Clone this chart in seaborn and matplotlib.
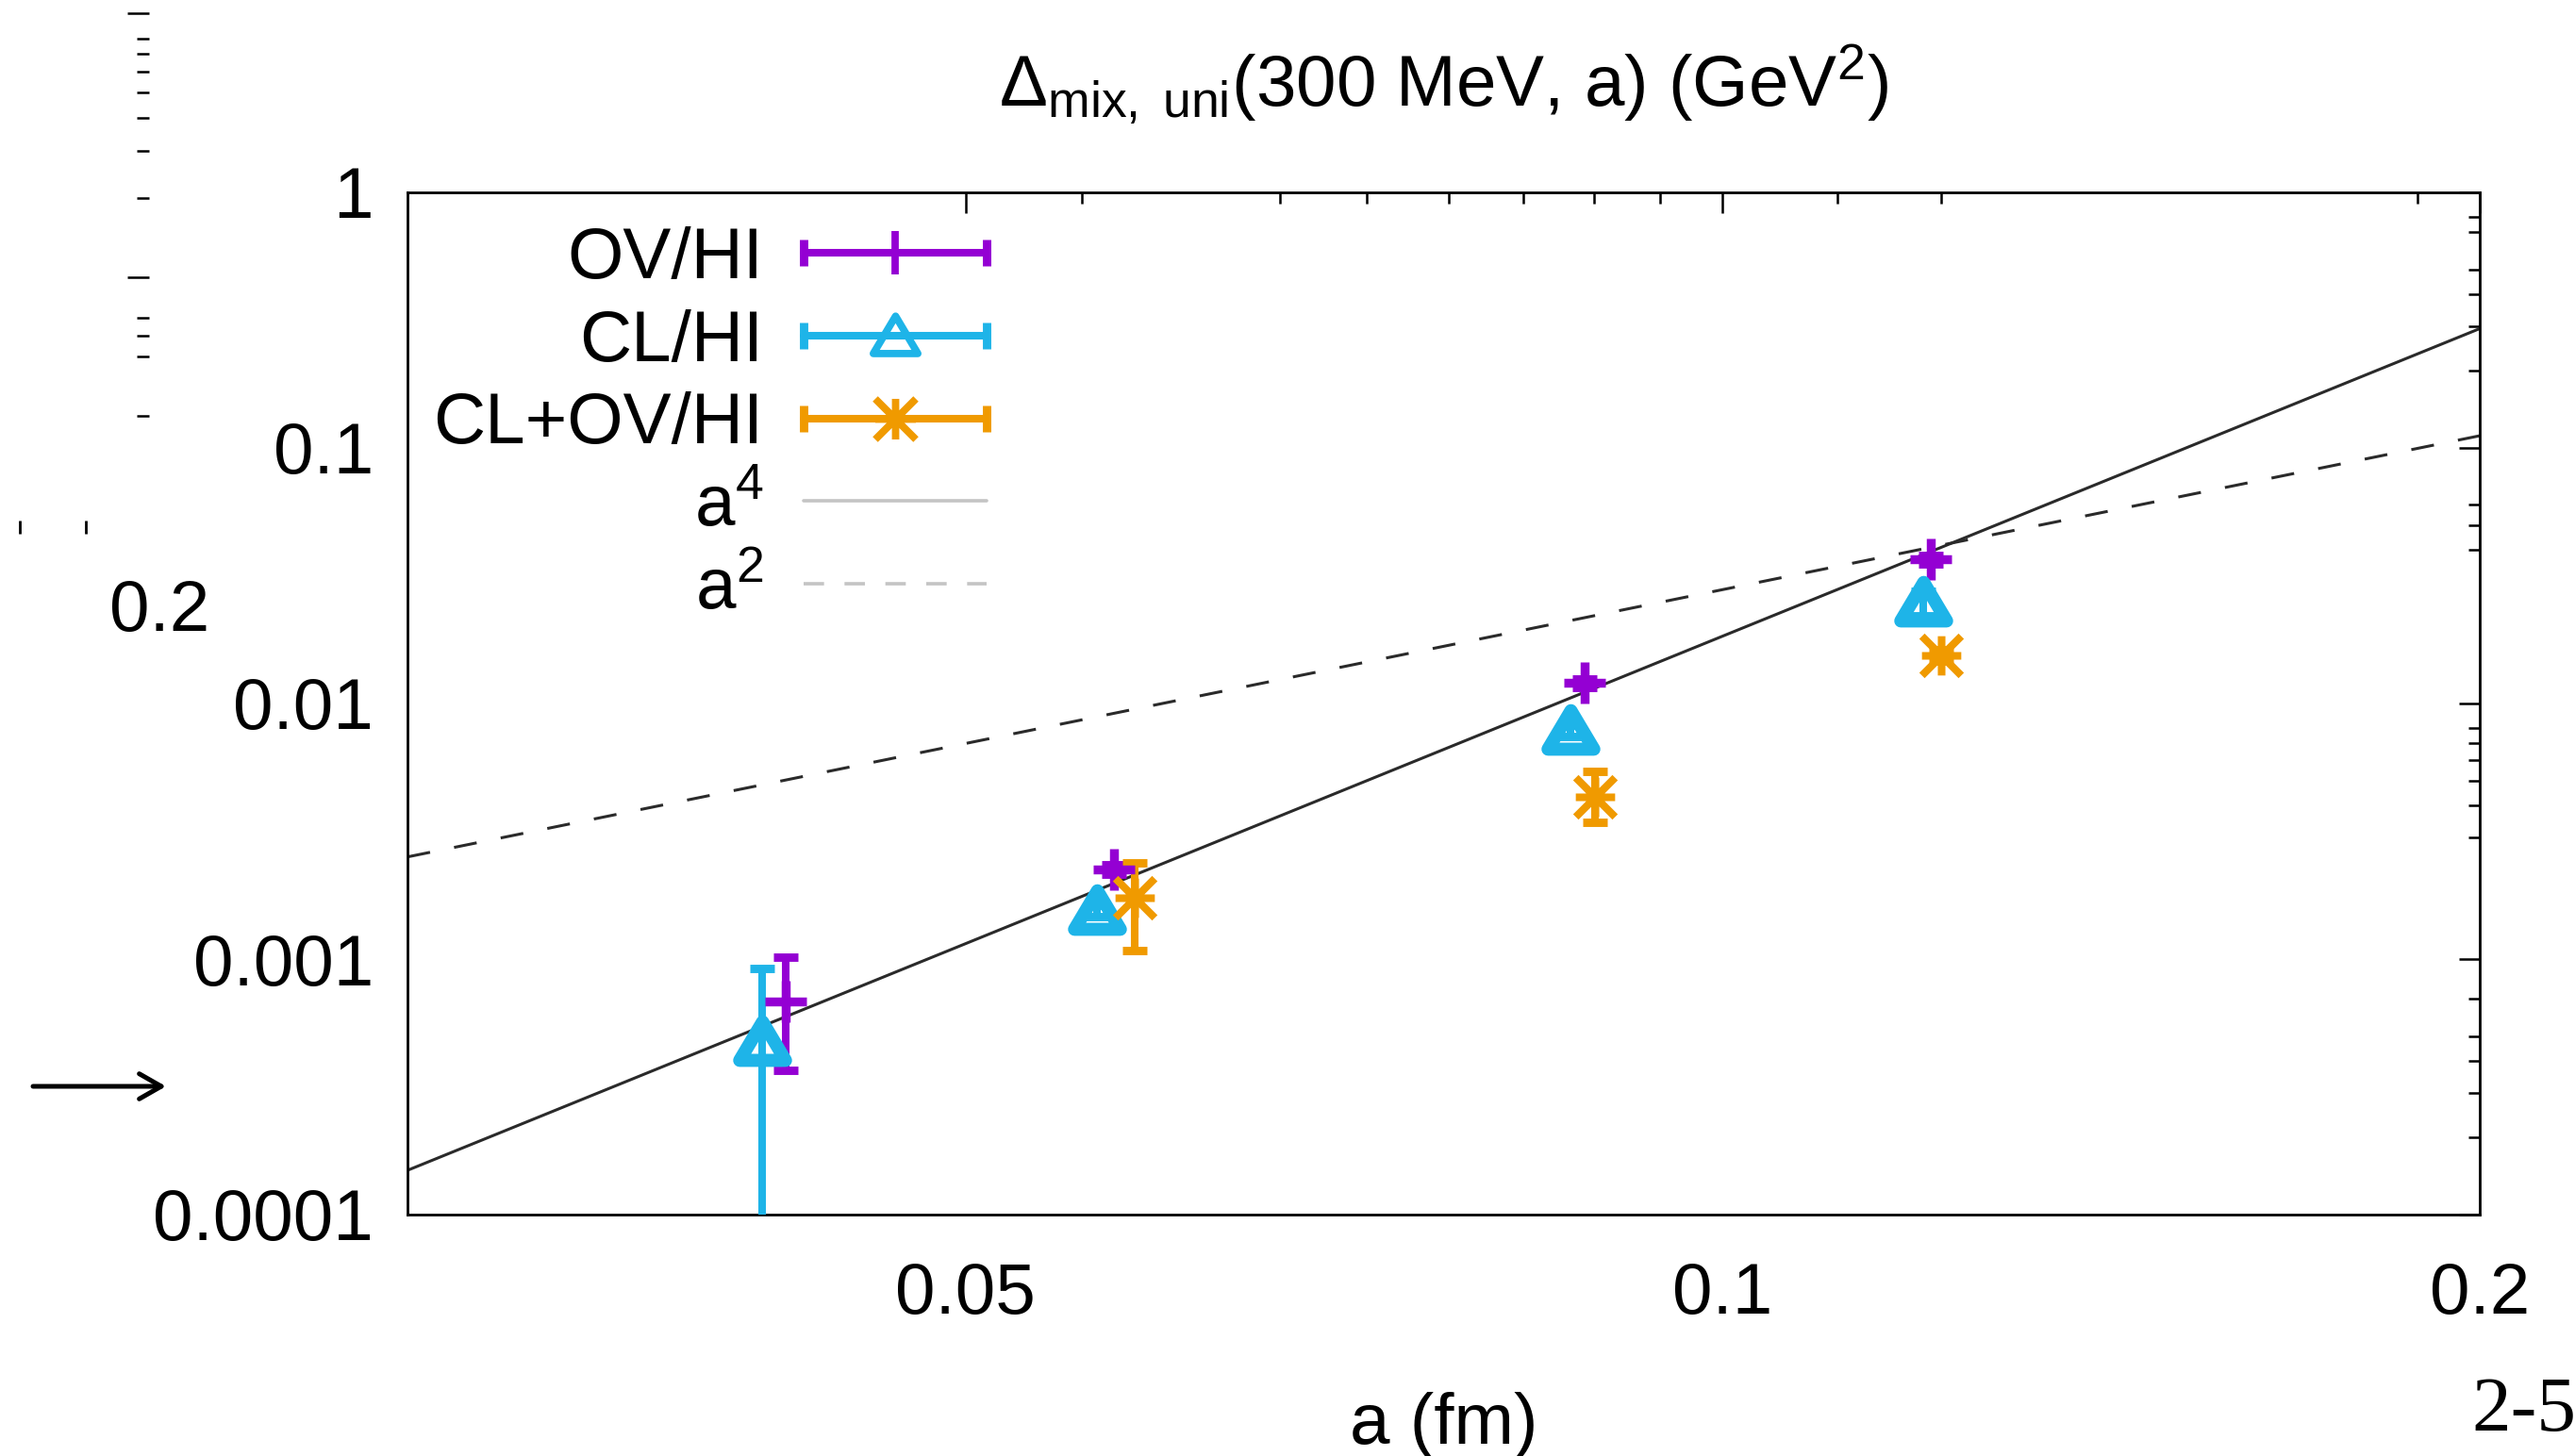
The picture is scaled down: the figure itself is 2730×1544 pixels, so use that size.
import numpy as np
import pandas as pd
import matplotlib
matplotlib.use("Agg")
import matplotlib.pyplot as plt
import seaborn as sns
from matplotlib.lines import Line2D
from matplotlib.path import Path
from matplotlib.patches import FancyArrowPatch
from matplotlib.legend_handler import HandlerLine2D, HandlerTuple
from matplotlib.ticker import FixedLocator, NullFormatter, FixedFormatter

# ---------------- data ----------------
ov_a = [0.0424, 0.0573, 0.0881, 0.1210]
ov_d = [6.84e-4, 2.24e-3, 1.205e-2, 3.66e-2]
ov_lo = [3.67e-4, 2.15e-3, 1.16e-2, 3.52e-2]
ov_hi = [1.02e-3, 2.33e-3, 1.25e-2, 3.80e-2]

cl_a = [0.0415, 0.0564, 0.0870, 0.1202]
cl_d = [4.72e-4, 1.54e-3, 7.83e-3, 2.48e-2]
cl_lo = [3.0e-5, 1.46e-3, 7.45e-3, 2.20e-2]
cl_hi = [9.19e-4, 1.62e-3, 8.25e-3, 2.75e-2]

co_a = [0.0584, 0.0890, 0.1222]
co_d = [1.74e-3, 4.31e-3, 1.54e-2]
co_lo = [1.08e-3, 3.43e-3, 1.47e-2]
co_hi = [2.38e-3, 5.41e-3, 1.62e-2]

a4_a = [0.03, 0.2]
a4_d = [1.49e-4, 0.293]
a2_a = [0.03, 0.2]
a2_d = [2.51e-3, 0.1116]

xtick_vals = [0.05, 0.1, 0.2]
xtick_labels = ["0.05", "0.1", "0.2"]
x_minor = [0.0556, 0.0667, 0.0722, 0.0778, 0.0833, 0.0889, 0.0944, 0.1111, 0.1222, 0.1889]
ytick_vals = [1e-4, 1e-3, 1e-2, 1e-1, 1]
ytick_labels = ["0.0001", "0.001", "0.01", "0.1", "1"]
y_minor = [2e-4, 3e-4, 4e-4, 5e-4, 7e-4,
           3e-3, 4e-3, 5e-3, 6e-3, 7e-3, 8e-3,
           4e-2, 5e-2, 6e-2,
           0.2, 0.3, 0.4, 0.5, 0.7, 0.8]

labels = ["OV/HI", "CL/HI", "CL+OV/HI", "a$^4$", "a$^2$"]
title = r"$\Delta_{\mathrm{mix,\ uni}}$(300 MeV, a) (GeV$^2$)"
xlabel = "a (fm)"

C_OV = "#9400d3"
C_CL = "#1eb4e8"
C_CO = "#f09a00"

# ---------------- style ----------------
sns.set_theme(style="white")
plt.rcParams["font.family"] = ["Liberation Sans", "DejaVu Sans"]
plt.rcParams["mathtext.fontset"] = "custom"
plt.rcParams["mathtext.rm"] = "Liberation Sans"
plt.rcParams["mathtext.it"] = "Liberation Sans:italic"
plt.rcParams["mathtext.bf"] = "Liberation Sans:bold"
FS = 27.5

W, H, DPI = 2730, 1544, 200
fig = plt.figure(figsize=(W / DPI, H / DPI), dpi=DPI)
fig.patch.set_facecolor("white")

L, R, T, B = 432, 2629, 204, 1288
ax = fig.add_axes([L / W, 1 - B / H, (R - L) / W, (B - T) / H])

# power-law guide lines via seaborn
lines_df = pd.DataFrame({
    "a": a4_a + a2_a,
    "d": a4_d + a2_d,
    "fit": ["a4"] * len(a4_a) + ["a2"] * len(a2_a),
})
sns.lineplot(data=lines_df, x="a", y="d", style="fit",
             dashes={"a4": "", "a2": (8, 8.5)}, color="#2a2a2a",
             linewidth=1.1, estimator=None, sort=False, legend=False, ax=ax)

tri = Path([(-1, -0.78), (1, -0.78), (0, 0.9), (-1, -0.78)],
           [Path.MOVETO, Path.LINETO, Path.LINETO, Path.CLOSEPOLY])
ast = Path([(-1, 0), (1, 0), (0, -1), (0, 1), (-1, -1), (1, 1), (-1, 1), (1, -1)],
           [Path.MOVETO, Path.LINETO] * 4)

ELW, CAP, CAPT = 2.9, 4.6, 3.2


def draw(a, d, lo, hi, color, marker, ms, mew):
    d = np.asarray(d)
    yerr = [d - np.asarray(lo), np.asarray(hi) - d]
    ax.errorbar(a, d, yerr=yerr, fmt="none", ecolor=color, elinewidth=ELW,
                capsize=CAP, capthick=CAPT, zorder=3)
    ax.plot(a, d, ls="none", marker=marker, ms=ms, mew=mew, mec=color,
            mfc="none", zorder=4)


draw(ov_a, ov_d, ov_lo, ov_hi, C_OV, "+", 15.5, 3.4)
draw(cl_a, cl_d, cl_lo, cl_hi, C_CL, tri, 17.5, 5.0)
draw(co_a, co_d, co_lo, co_hi, C_CO, ast, 15, 2.9)

ax.set_xscale("log")
ax.set_yscale("log")
ax.set_xlim(0.03, 0.2)
ax.set_ylim(1e-4, 1)

ax.xaxis.set_major_locator(FixedLocator(xtick_vals))
ax.xaxis.set_major_formatter(FixedFormatter(xtick_labels))
ax.xaxis.set_minor_locator(FixedLocator(x_minor))
ax.xaxis.set_minor_formatter(NullFormatter())
ax.yaxis.set_major_locator(FixedLocator(ytick_vals))
ax.yaxis.set_major_formatter(FixedFormatter(ytick_labels))
ax.yaxis.set_minor_locator(FixedLocator(y_minor))
ax.yaxis.set_minor_formatter(NullFormatter())

ax.tick_params(which="both", direction="in", top=True, right=True,
               colors="black", labelsize=FS, width=0.9)
ax.tick_params(which="major", length=7.9)
ax.tick_params(which="minor", length=4.3)
ax.tick_params(axis="x", which="major", pad=18)
ax.tick_params(axis="y", which="major", pad=13)
for s in ax.spines.values():
    s.set_color("black")
    s.set_linewidth(1.0)
ax.set_xlabel("")
ax.set_ylabel("")

ax.set_title(title, fontsize=FS, pad=33, color="black")
ax.set_xlabel(xlabel, fontsize=FS, color="black")
ax.xaxis.label.set_va("baseline")
ax.xaxis.set_label_coords(0.5, -(1531 - B) / (B - T))

# ---------------- gnuplot-style key ----------------
def series_handles(color, marker, ms, mew):
    caps = Line2D([], [], color=color, lw=ELW, marker="|", ms=2 * CAP + 1,
                  mew=CAPT)
    mk = Line2D([], [], ls="none", color=color, marker=marker, ms=ms, mew=mew,
                mec=color, mfc="none")
    return caps, mk


h_ov = series_handles(C_OV, "+", 16.5, 2.8)
h_cl = series_handles(C_CL, tri, 17, 2.8)
h_co = series_handles(C_CO, ast, 15.5, 2.8)
h_a4 = Line2D([], [], color="#c4c4c4", lw=1.3)
h_a2 = Line2D([], [], color="#c4c4c4", lw=1.3, dashes=(6, 6))

hmap = {tuple: HandlerTuple(ndivide=1, pad=0)}
for caps, mk in (h_ov, h_cl, h_co):
    hmap[caps] = HandlerLine2D(numpoints=2, marker_pad=0)
    hmap[mk] = HandlerLine2D(numpoints=1)

leg = ax.legend([h_ov, h_cl, h_co, h_a4, h_a2], labels, handler_map=hmap,
                loc="upper left", bbox_to_anchor=(0.0125, 0.967),
                frameon=False, markerfirst=False, fontsize=FS,
                handlelength=2.55, handletextpad=0.55, labelspacing=0.22,
                borderpad=0, borderaxespad=0)
for t in leg.get_texts():
    t.set_color("black")

# ---------------- stray page fragments around the chart ----------------
strip = fig.add_axes([158 / W, 1 - 480 / H, 0.0005, 480 / H])
strip.set_yscale("log")
strip.set_ylim(0.2172, 11.18)
strip.yaxis.set_major_locator(FixedLocator([1, 10]))
strip.yaxis.set_minor_locator(FixedLocator([0.3, 0.5, 0.6, 0.7, 2, 3, 4, 5, 6, 7, 8]))
strip.yaxis.set_major_formatter(NullFormatter())
strip.yaxis.set_minor_formatter(NullFormatter())
strip.tick_params(axis="y", which="both", direction="out", left=True,
                  right=False, colors="black", width=0.9)
strip.tick_params(axis="y", which="major", length=8.3)
strip.tick_params(axis="y", which="minor", length=4.7)
strip.xaxis.set_visible(False)
strip.patch.set_visible(False)
for s in strip.spines.values():
    s.set_visible(False)

tk = fig.add_axes([21 / W, 1 - 566 / H, 70 / W, 0.0005])
tk.set_xlim(0, 1)
tk.xaxis.set_major_locator(FixedLocator([0, 1]))
tk.xaxis.set_major_formatter(NullFormatter())
tk.tick_params(axis="x", direction="in", length=5, width=1.0, bottom=True,
               top=False, colors="black")
tk.yaxis.set_visible(False)
tk.patch.set_visible(False)
for s in tk.spines.values():
    s.set_visible(False)

fig.text(169 / W, 1 - 669 / H, "0.2", ha="center", va="baseline",
         fontsize=FS, color="black")

arrow = FancyArrowPatch((35 / W, 1 - 1152 / H), (176 / W, 1 - 1152 / H),
                        transform=fig.transFigure, arrowstyle="->,head_length=0.42,head_width=0.24",
                        mutation_scale=20, lw=1.8, color="black",
                        shrinkA=0, shrinkB=0)
fig.add_artist(arrow)

fig.text(2620 / W, 1 - 1517 / H, "2-5", ha="left", va="baseline",
         fontsize=30, color="black",
         family=["Liberation Serif", "DejaVu Serif"])

fig.savefig("out.png", dpi=DPI, facecolor="white")
